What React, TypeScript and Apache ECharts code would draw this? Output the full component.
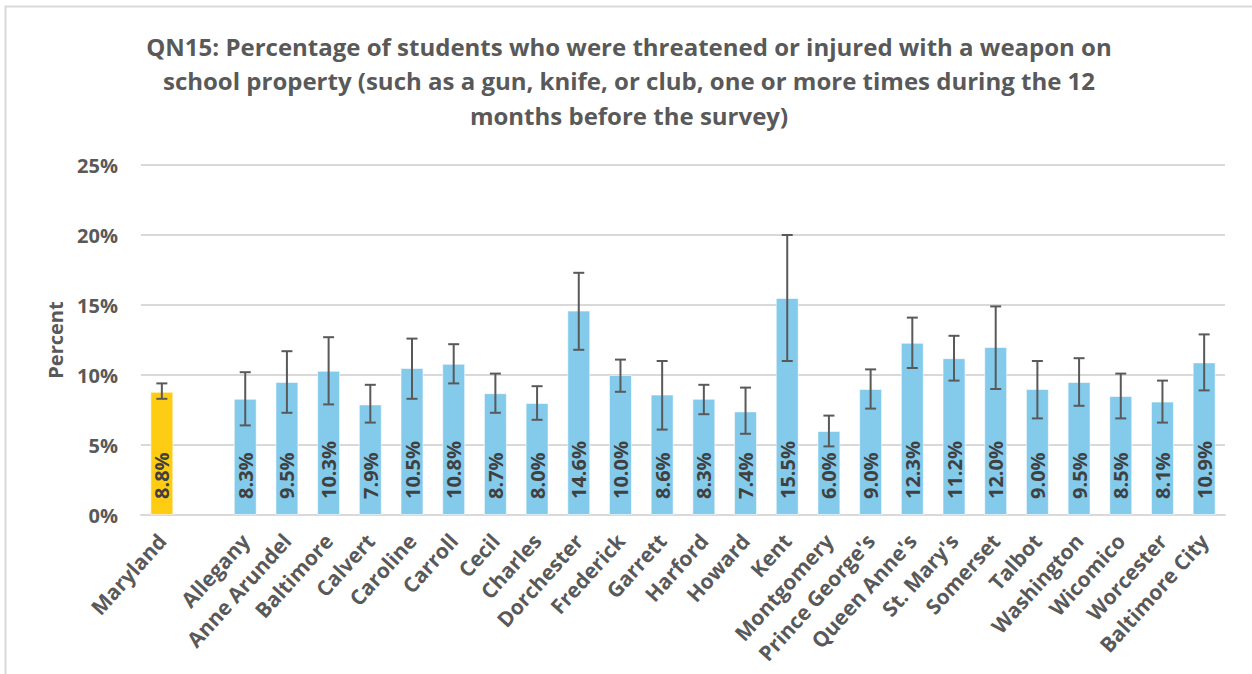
import React, { useEffect, useRef } from "react";
import * as echarts from "echarts";

const titleText =
  "QN15: Percentage of students who were threatened or injured with a weapon on\nschool property (such as a gun, knife, or club, one or more times during the 12\nmonths before the survey)";

const stateName = "Maryland";
const stateValue = 8.8;
const stateLower = 8.3;
const stateUpper = 9.4;

const counties = [
  "Allegany", "Anne Arundel", "Baltimore", "Calvert", "Caroline", "Carroll", "Cecil",
  "Charles", "Dorchester", "Frederick", "Garrett", "Harford", "Howard", "Kent",
  "Montgomery", "Prince George's", "Queen Anne's", "St. Mary's", "Somerset", "Talbot",
  "Washington", "Wicomico", "Worcester", "Baltimore City",
];
const countyValues = [
  8.3, 9.5, 10.3, 7.9, 10.5, 10.8, 8.7, 8.0, 14.6, 10.0, 8.6, 8.3, 7.4, 15.5, 6.0, 9.0,
  12.3, 11.2, 12.0, 9.0, 9.5, 8.5, 8.1, 10.9,
];
const countyLower = [
  6.4, 7.3, 7.9, 6.6, 8.3, 9.4, 7.3, 6.8, 11.8, 8.8, 6.1, 7.2, 5.8, 11.0, 4.9, 7.6,
  10.5, 9.6, 9.0, 6.9, 7.8, 6.9, 6.6, 8.9,
];
const countyUpper = [
  10.2, 11.7, 12.7, 9.3, 12.6, 12.2, 10.1, 9.2, 17.3, 11.1, 11.0, 9.3, 9.1, 20.0, 7.1, 10.4,
  14.1, 12.8, 14.9, 11.0, 11.2, 10.1, 9.6, 12.9,
];

const yTicks = { min: 0, max: 25, interval: 5 };

const BLUE = "#83CAEB";
const GOLD = "#FFCC14";
const TEXT = "#595959";
const FONT = "'Open Sans', sans-serif";

export default function App() {
  const ref = useRef<HTMLDivElement>(null);
  useEffect(() => {
    if (!ref.current) return;
    const chart = echarts.init(ref.current, null, { renderer: "svg" });
    const categories = [stateName, "", ...counties];
    const barData: any[] = [
      { value: stateValue, itemStyle: { color: GOLD } },
      "-",
      ...countyValues.map((v) => ({ value: v, itemStyle: { color: BLUE } })),
    ];
    const errData: number[][] = [[0, stateLower, stateUpper]];
    countyLower.forEach((lo, i) => errData.push([i + 2, lo, countyUpper[i]]));

    chart.setOption({
      animation: false,
      backgroundColor: "#fff",
      graphic: [
        {
          type: "rect",
          shape: { x: 5.5, y: 6.5, width: 1260, height: 700 },
          style: { fill: "none", stroke: "#D9D9D9", lineWidth: 2 },
          silent: true,
        },
        {
          type: "text",
          x: 629,
          y: 29,
          silent: true,
          style: {
            text: titleText,
            align: "center",
            verticalAlign: "top",
            fontFamily: FONT,
            fontWeight: "bold",
            fontSize: 24,
            lineHeight: 34.5,
            fill: TEXT,
          },
        },
      ],
      grid: { left: 141, right: 27, top: 165, bottom: 159, containLabel: false },
      xAxis: {
        type: "category",
        data: categories,
        axisTick: { show: false },
        axisLine: { lineStyle: { color: "#D9D9D9", width: 2 } },
        axisLabel: {
          interval: 0,
          rotate: 48,
          margin: 22,
          color: TEXT,
          fontFamily: FONT,
          fontWeight: "bold",
          fontSize: 21,
        },
      },
      yAxis: {
        type: "value",
        min: yTicks.min,
        max: yTicks.max,
        interval: yTicks.interval,
        name: "Percent",
        nameLocation: "middle",
        nameRotate: 90,
        nameGap: 76,
        nameTextStyle: {
          color: TEXT,
          fontFamily: FONT,
          fontWeight: "bold",
          fontSize: 20,
        },
        axisLine: { show: false },
        axisTick: { show: false },
        axisLabel: {
          formatter: "{value}%",
          color: TEXT,
          fontFamily: FONT,
          fontWeight: "bold",
          fontSize: 20,
          margin: 23,
        },
        splitLine: { lineStyle: { color: "#D9D9D9", width: 2 } },
      },
      series: [
        {
          type: "bar",
          data: barData,
          barWidth: "55%",
          itemStyle: { borderColor: "rgba(255,255,255,0.55)", borderWidth: 1 },
          label: {
            show: true,
            position: "insideBottom",
            rotate: 90,
            align: "left",
            verticalAlign: "middle",
            distance: 16,
            formatter: (p: any) => Number(p.value).toFixed(1) + "%",
            color: "#404040",
            fontFamily: FONT,
            fontWeight: "bold",
            fontSize: 20,
          },
          z: 2,
        },
        {
          type: "custom",
          data: errData,
          z: 3,
          renderItem: (params: any, api: any) => {
            const x = api.value(0);
            const lo = api.coord([x, api.value(1)]);
            const hi = api.coord([x, api.value(2)]);
            const hw = 5.5;
            const style = { stroke: "#595959", lineWidth: 2 };
            return {
              type: "group",
              children: [
                { type: "line", shape: { x1: lo[0], y1: lo[1], x2: hi[0], y2: hi[1] }, style },
                { type: "line", shape: { x1: hi[0] - hw, y1: hi[1], x2: hi[0] + hw, y2: hi[1] }, style },
                { type: "line", shape: { x1: lo[0] - hw, y1: lo[1], x2: lo[0] + hw, y2: lo[1] }, style },
              ],
            };
          },
        },
      ],
    });
    return () => chart.dispose();
  }, []);
  return (
    <div
      ref={ref}
      style={{ position: "absolute", left: 0, top: 0, width: 1252, height: 674 }}
    />
  );
}
